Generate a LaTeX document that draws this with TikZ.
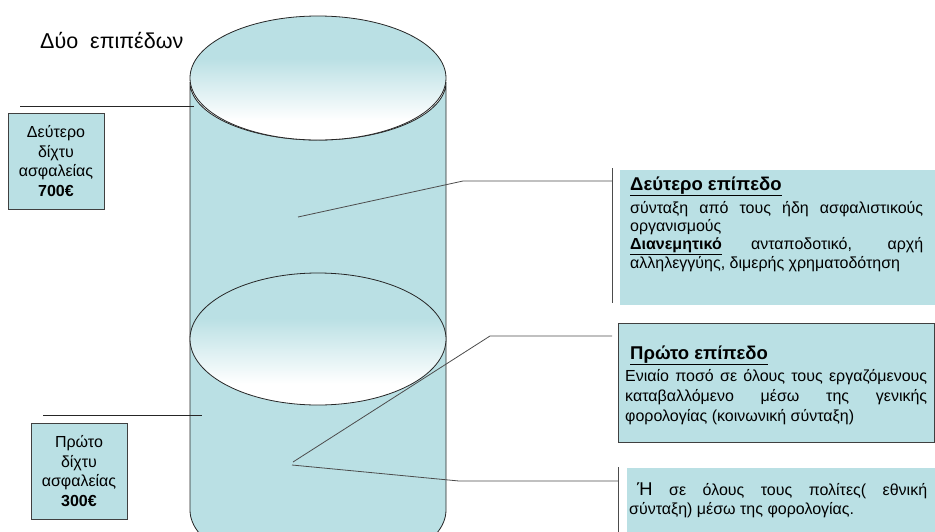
\documentclass[tikz,border=0pt]{standalone}
\usepackage{fontspec}
\setmainfont{Liberation Sans}
\definecolor{cyl}{RGB}{186,224,228}
\pgfdeclareverticalshading{faceshade}{100bp}{color(0bp)=(white); color(33bp)=(white); color(58bp)=(cyl); color(75bp)=(cyl); color(100bp)=(cyl)}
\newcommand{\jline}[2]{\makebox[#1][s]{#2}}
\begin{document}
\begin{tikzpicture}[x=1pt,y=1pt,
  cylline/.style={draw=black!85, line width=0.8pt},
  face/.style={draw=black!85, line width=0.8pt, shading=faceshade},
  leftbox/.style={draw=black!75, fill=cyl, line width=0.8pt, minimum width=96pt, minimum height=96pt, inner sep=0pt, align=center, font=\fontsize{16}{19.5}\selectfont},
  tick/.style={draw=black!85, line width=0.7pt},
  callout/.style={draw=black!70, line width=0.8pt},
  panel/.style={fill=cyl, draw=none, inner sep=0pt, anchor=north west},
  framed/.style={fill=cyl, draw=black!75, line width=0.8pt, inner sep=0pt, anchor=north west},
  heading/.style={anchor=base west, inner sep=0pt, font=\bfseries\fontsize{18.5}{22}\selectfont},
  bodytext/.style={anchor=north west, inner sep=0pt, align=left},
  title/.style={anchor=base west, inner sep=0pt, font=\fontsize{21.5}{25}\selectfont}
]
\useasboundingbox (0,0) rectangle (935,-531);
\clip (0,0) rectangle (935,-531);

% cylinder body
\path[cylline, fill=cyl] (190,-82) -- (190,-510)
  arc[start angle=180, end angle=360, x radius=128, y radius=62]
  -- (446,-82)
  arc[start angle=0, end angle=-180, x radius=128, y radius=58] -- cycle;
% top face
\path[face] (318,-78) ellipse [x radius=128, y radius=62];
% middle ellipse
\path[face] (318,-339) ellipse [x radius=128, y radius=66];

% title
\node[title] (ttl) at (40,-48) {Δύο\ \ επιπέδων};

% left boxes
\node[leftbox] (lb1) at (56,-161) {Δεύτερο\\δίχτυ\\ασφαλείας\\\textbf{700€}};
\node[leftbox] (lb2) at (79,-471) {Πρώτο\\δίχτυ\\ασφαλείας\\\textbf{300€}};
\coordinate (t1a) at (20,-106);
\coordinate (t1b) at (194,-106);
\coordinate (t2a) at (43,-415);
\coordinate (t2b) at (202,-415);
\draw[tick] (t1a) -- (t1b);
\draw[tick] (t2a) -- (t2b);

% right panels
\node[panel, minimum width=315pt, minimum height=135pt] (pA) at (620,-170) {};
\node[framed, minimum width=316pt, minimum height=119pt] (pB) at (618,-323) {};
\node[panel, minimum width=308pt, minimum height=70pt] (pC) at (627,-468) {};

% accent bars
\coordinate (barAt) at (612,-168);
\coordinate (barAb) at (612,-303);
\coordinate (barCt) at (618,-467);
\coordinate (barCb) at (618,-535);
\draw[callout] (barAt) -- (barAb);
\draw[callout] (barCt) -- (barCb);

% callout connectors
\coordinate (cA0) at (298,-217);
\coordinate (cA1) at (463,-181);
\coordinate (cA2) at (612,-181);
\coordinate (cB0) at (293,-462);
\coordinate (cB1) at (490,-336);
\coordinate (cB2) at (612,-336);
\coordinate (cC0) at (292,-465);
\coordinate (cC1) at (459,-481);
\coordinate (cC2) at (618,-481);
\draw[callout] (cA0) -- (cA1) -- (cA2);
\draw[callout] (cB0) -- (cB1) -- (cB2);
\draw[callout] (cC0) -- (cC1) -- (cC2);

% panel A text
\node[heading] (hA) at (630,-190) {\underline{Δεύτερο επίπεδο}};
\node[bodytext, font=\fontsize{16}{18.3}\selectfont] (bA) at (630,-201)
  {\rule{0pt}{12pt}\jline{293pt}{σύνταξη από τους ήδη ασφαλιστικούς}\\
   οργανισμούς\\
   \jline{293pt}{\underline{\textbf{Διανεμητικό}} ανταποδοτικό, αρχή}\\
   αλληλεγγύης, διμερής χρηματοδότηση};

% panel B text
\node[heading] (hB) at (630,-359) {\underline{Πρώτο επίπεδο}};
\node[bodytext, font=\fontsize{16}{20}\selectfont] (bB) at (625,-369)
  {\rule{0pt}{12pt}\jline{302pt}{Ενιαίο ποσό σε όλους τους εργαζόμενους}\\
   \jline{302pt}{καταβαλλόμενο μέσω της γενικής}\\
   φορολογίας (κοινωνική σύνταξη)};

% panel C text
\node[bodytext, font=\fontsize{16}{19}\selectfont] (bC) at (629,-481)
  {\rule{0pt}{14pt}\jline{298pt}{\hspace{8pt}{\fontsize{18.5}{19}\selectfont Ή} σε όλους τους πολίτες( εθνική}\\
   σύνταξη) μέσω της φορολογίας.};
\end{tikzpicture}
\end{document}
